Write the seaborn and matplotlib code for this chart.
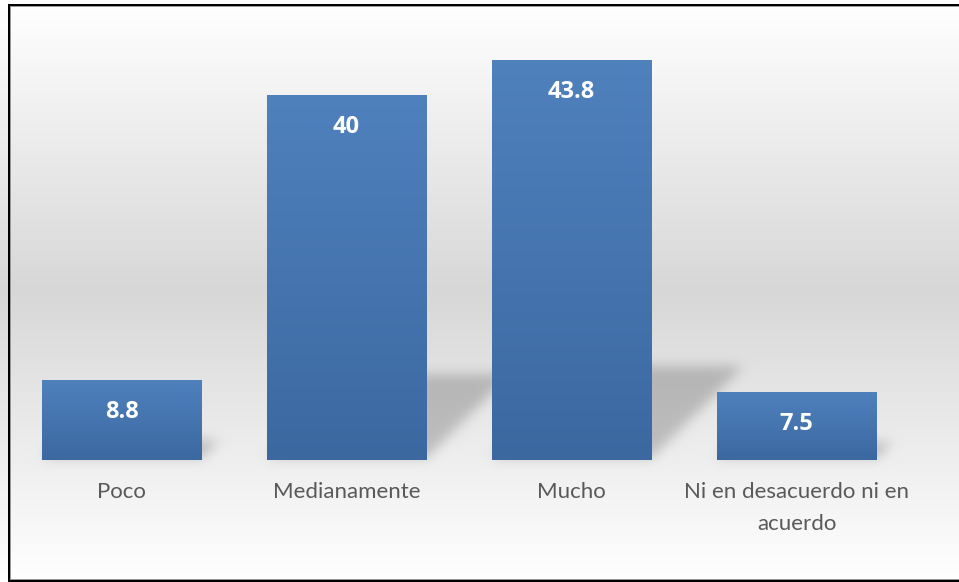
import numpy as np
import pandas as pd
import matplotlib
matplotlib.use("Agg")
import matplotlib.pyplot as plt
import seaborn as sns

# Survey answers and their percentages
categories = ["Poco", "Medianamente", "Mucho", "Ni en desacuerdo ni en\nacuerdo"]
values = [8.8, 40, 43.8, 7.5]
value_labels = ["8.8", "40", "43.8", "7.5"]

W, H, DPI = 959, 582, 100

sns.set_theme(style="white")
plt.rcParams["font.family"] = ["Lato", "DejaVu Sans"]

fig = plt.figure(figsize=(W / DPI, H / DPI), dpi=DPI)

# full-figure axes that carries the gradient backdrop, the soft bar shadows and the frame
bg_ax = fig.add_axes([0, 0, 1, 1], zorder=0)
bg_ax.set_axis_off()

# bar axes, transparent so the backdrop shows through
ymax = 45
px_per_unit = 9.13
ax = fig.add_axes([9 / W, 122 / H, 900 / W, ymax * px_per_unit / H], zorder=1)
ax.patch.set_alpha(0)

df = pd.DataFrame({"respuesta": categories, "porcentaje": values})
sns.barplot(data=df, x="respuesta", y="porcentaje", color="#4f81bd",
            saturation=1, width=0.711, ax=ax)
ax.set_xlim(-0.5, 3.5)
ax.set_ylim(0, ymax)
sns.despine(ax=ax, left=True, bottom=True)
ax.set_yticks([])
ax.set_xlabel("")
ax.set_ylabel("")
ax.tick_params(axis="x", length=0, pad=16, labelsize=16, labelcolor="#595959")
for t in ax.get_xticklabels():
    t.set_linespacing(1.75)

bars = list(ax.patches)

# vertical blue gradient inside each bar
top_c = np.array([79, 129, 189]) / 255
bot_c = np.array([60, 104, 160]) / 255
ramp = np.linspace(0, 1, 256).reshape(-1, 1, 1)
grad_img = top_c + (bot_c - top_c) * ramp
for p in bars:
    x0, w, h = p.get_x(), p.get_width(), p.get_height()
    p.set_facecolor("none")
    p.set_edgecolor("none")
    im = ax.imshow(grad_img, extent=[x0, x0 + w, 0, h], origin="upper",
                   aspect="auto", interpolation="bilinear", zorder=2)
    im.set_clip_path(p)
ax.set_xlim(-0.5, 3.5)
ax.set_ylim(0, ymax)

# value labels inside the top of each bar
for p, lab in zip(bars, value_labels):
    ax.annotate(lab, (p.get_x() + p.get_width() / 2, p.get_height()),
                xytext=(0, -32 * 72 / DPI), textcoords="offset points",
                ha="center", va="center", color="white", fontsize=17,
                fontweight="bold", family=["Open Sans", "DejaVu Sans"],
                zorder=5)

# backdrop: light-grey vertical gradient, darkest near the middle
rows = np.arange(H) + 0.5
top_y, mid_y, bot_y = 5.0, 290.0, 580.0
light, dark = 255.0, 215.0
g = np.where(rows < mid_y,
             light - (light - dark) * (rows - top_y) / (mid_y - top_y),
             dark + (light - dark) * (rows - mid_y) / (bot_y - mid_y))
g = np.clip(g, dark, light) / 255.0
backdrop = np.repeat(g[:, None], W, axis=1)

# perspective shadows leaning up and to the right behind every bar
fig.canvas.draw()
mask = np.zeros((H, W))
cols = np.arange(W) + 0.5
for p in bars:
    px0, pyb = ax.transData.transform((p.get_x(), 0))
    px1, pyt = ax.transData.transform((p.get_x() + p.get_width(), p.get_height()))
    depth = 0.23 * (pyt - pyb)
    for r in range(H):
        off = (H - rows[r]) - pyb - 2
        if 0 <= off <= depth:
            mask[r, (cols >= px0 + off) & (cols <= px1 + off)] = 1.0


def gaussian_blur(a, sigma):
    rad = int(3 * sigma)
    k = np.exp(-0.5 * (np.arange(-rad, rad + 1) / sigma) ** 2)
    k /= k.sum()
    a = np.apply_along_axis(lambda v: np.convolve(v, k, mode="same"), 0, a)
    a = np.apply_along_axis(lambda v: np.convolve(v, k, mode="same"), 1, a)
    return a


shade = gaussian_blur(mask, 6.0)
backdrop = backdrop * (1 - 0.2 * shade)

rgb = np.repeat(backdrop[:, :, None], 3, axis=2)

# chart frame: top, bottom and left edges
rgb[4:6, 8:, :] = 0.0
rgb[6, 10:, :] = 0.6
rgb[579, 10:, :] = 0.6
rgb[580:582, 8:, :] = 0.0
rgb[4:582, 8:10, :] = 0.0
rgb[6:579, 10, :] = 0.6

bg_ax.imshow(rgb, extent=[0, W, H, 0], origin="upper", aspect="auto",
             interpolation="nearest")
bg_ax.set_xlim(0, W)
bg_ax.set_ylim(H, 0)

fig.savefig("out.png", dpi=DPI)
